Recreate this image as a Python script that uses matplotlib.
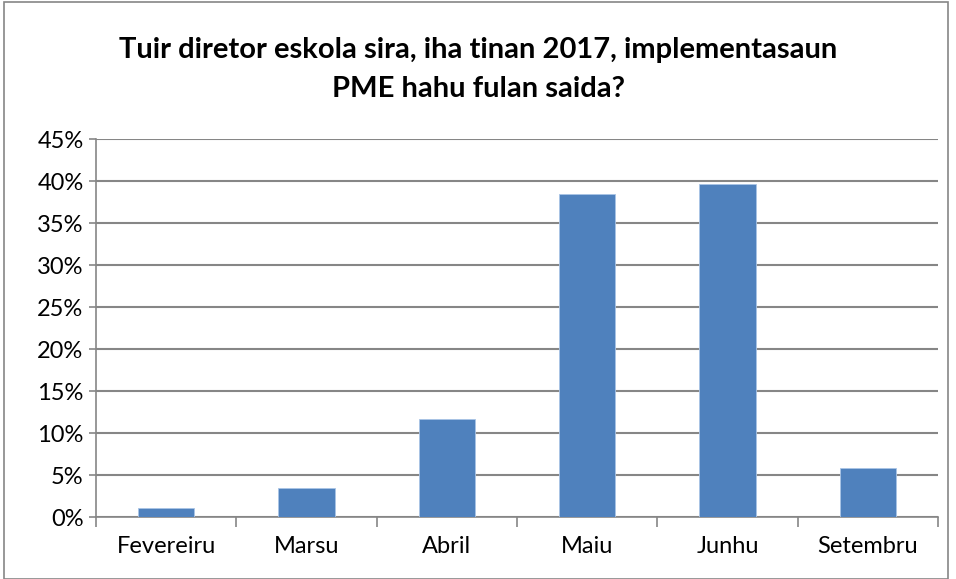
import matplotlib.pyplot as plt
from matplotlib.patches import Rectangle
from matplotlib.ticker import PercentFormatter
import numpy as np

months = ["Fevereiru", "Marsu", "Abril", "Maiu", "Junhu", "Setembru"]
percent = [1.1, 3.4, 11.7, 38.5, 39.7, 5.8]
yticks = [0, 5, 10, 15, 20, 25, 30, 35, 40, 45]

plt.rcParams['font.family'] = ['Lato', 'DejaVu Sans']

fig = plt.figure(figsize=(9.56, 5.79), dpi=100)
ax = fig.add_axes([96 / 956, 1 - 517 / 579, (938 - 96) / 956, (517 - 139) / 579])

x = np.arange(len(months))
ax.bar(x, percent, width=0.4, color="#4f81bd", edgecolor="#a9c4e6", linewidth=0.6, zorder=3)

ax.set_xlim(-0.5, len(months) - 0.5)
ax.set_ylim(0, 45)
ax.set_yticks(yticks)
ax.yaxis.set_major_formatter(PercentFormatter(decimals=0))
ax.set_xticks(x)
ax.set_xticklabels(months)
ax.set_xticks(np.arange(len(months) + 1) - 0.5, minor=True)

ax.grid(axis="y", color="#868686", linewidth=1.5, zorder=0)
for s in ["top", "right"]:
    ax.spines[s].set_visible(False)
for s in ["left", "bottom"]:
    ax.spines[s].set_color("#868686")
    ax.spines[s].set_linewidth(1.2)

ax.tick_params(axis="x", which="major", length=0, labelsize=17, pad=14)
ax.tick_params(axis="x", which="minor", length=7, width=1.2, color="#868686")
ax.tick_params(axis="y", length=5, width=1.2, color="#868686", labelsize=17, pad=4)

fig.text(0.5, 1 - 50 / 579, "Tuir diretor eskola sira, iha tinan 2017, implementasaun",
         ha="center", va="center", fontsize=21, fontweight="bold")
fig.text(0.5, 1 - 89 / 579, "PME hahu fulan saida?",
         ha="center", va="center", fontsize=21, fontweight="bold")

fig.patches.append(Rectangle((4 / 956, 0), 944 / 956, 1 - 2 / 579, transform=fig.transFigure,
                             fill=False, edgecolor="#868686", linewidth=1.2))

fig.savefig("out.png", dpi=100)
